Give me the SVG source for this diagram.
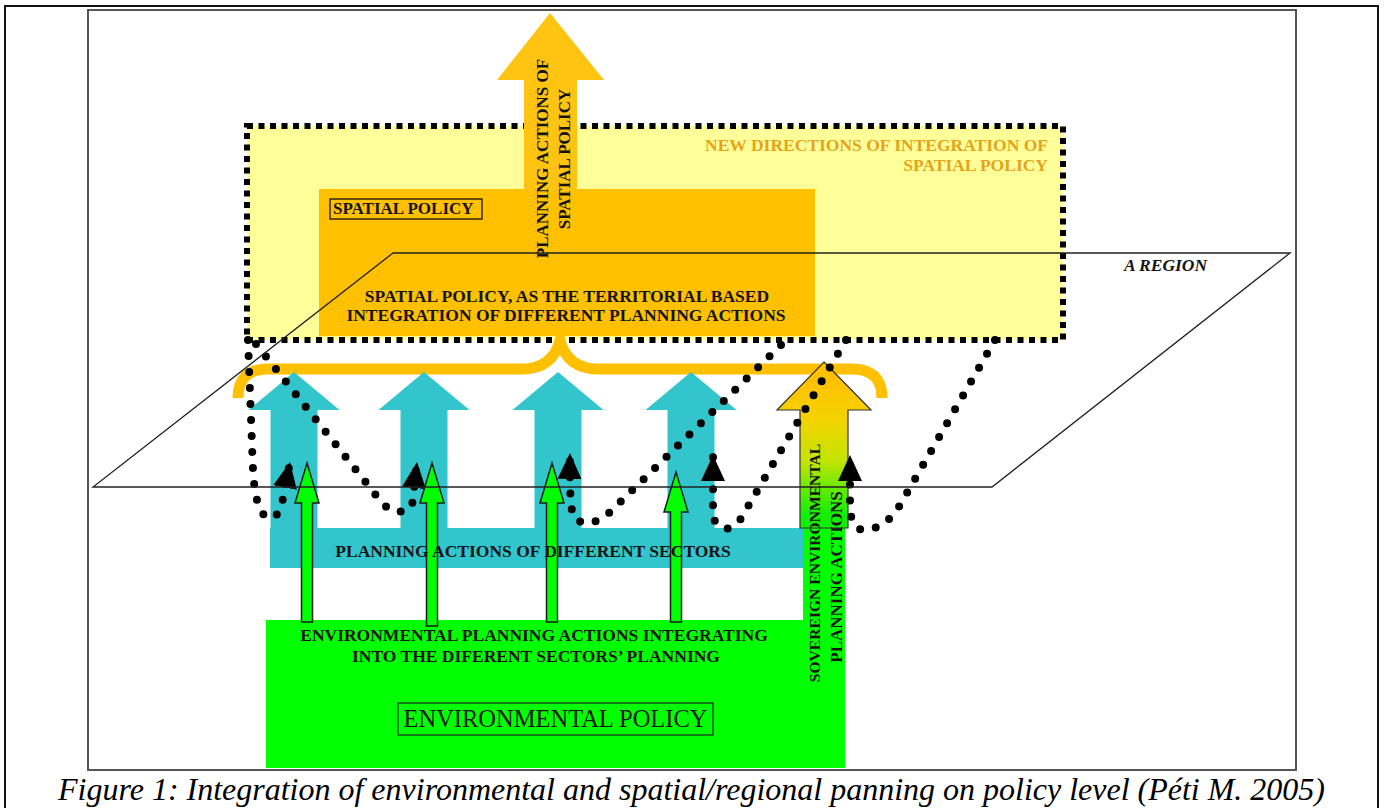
<svg xmlns="http://www.w3.org/2000/svg" width="1385" height="808" viewBox="0 0 1385 808">
<defs>
<style>
.t{font-family:"Liberation Serif","Times New Roman",serif;font-weight:bold;font-size:17.5px;fill:#141414}
.c{text-anchor:middle}
.dots{fill:none;stroke:#000;stroke-width:8;stroke-linecap:round;stroke-dasharray:0 16;marker-end:url(#tri)}
.garrow{fill:#00FF00;stroke:#1a1a1a;stroke-width:1.5}
.teal{fill:#33C5CC}
.gold{fill:#FFC000}
</style>
<marker id="tri" markerUnits="userSpaceOnUse" markerWidth="28" markerHeight="26" refX="26" refY="13" orient="auto" viewBox="0 0 28 26"><path d="M0,1 L26,13 L0,25 z" fill="#000"/></marker>
<linearGradient id="sov" gradientUnits="userSpaceOnUse" x1="0" y1="380" x2="0" y2="515"><stop offset="0" stop-color="#FFC000"/><stop offset="0.3" stop-color="#F2D400"/><stop offset="0.6" stop-color="#C4E400"/><stop offset="1" stop-color="#10F000"/></linearGradient>
</defs>
<rect width="1385" height="808" fill="#fff"/>
<g id="frame" fill="none">
<rect x="5" y="6" width="1373" height="830" stroke="#111" stroke-width="2"/>
<rect x="88" y="10" width="1208" height="760" stroke="#555" stroke-width="2"/>
</g>
<g id="new-directions">
<rect x="247" y="126" width="816" height="214" fill="#FFFF99" stroke="#000" stroke-width="6" stroke-dasharray="6 5.5"/>
<text class="t" x="1048" y="151" text-anchor="end" style="fill:#E5A41C">NEW DIRECTIONS OF INTEGRATION OF</text>
<text class="t" x="1048" y="171" text-anchor="end" style="fill:#E5A41C">SPATIAL POLICY</text>
</g>
<g id="spatial-policy">
<rect class="gold" x="319" y="189" width="496" height="147"/>
<rect x="330" y="199" width="152" height="20" fill="none" stroke="#000" stroke-width="1.2"/>
<text class="t" x="333" y="214" style="font-size:17px">SPATIAL POLICY</text>
</g>
<g id="spatial-actions-arrow">
<polygon fill="#FFC412" points="550,13 604,80 577,80 577,190 524,190 524,80 497,80"/>
<text class="t c" transform="translate(548,158.5) rotate(-90)" style="font-size:17px">PLANNING ACTIONS OF</text>
<text class="t c" transform="translate(570,159) rotate(-90)" style="font-size:17px">SPATIAL POLICY</text>
</g>
<g id="brace">
<path d="M238,398 Q238,369 268,369 L522,369 Q552,369 560,341 Q568,369 598,369 L852,369 Q882,369 882,398" fill="none" stroke="#FFC000" stroke-width="11"/>
</g>
<g id="sectors">
<rect class="teal" x="270" y="528" width="533" height="40"/>
<polygon class="teal" points="294,372 339.5,410 317.5,410 317.5,530 270.5,530 270.5,410 248.5,410"/>
<polygon class="teal" points="424,372 469.5,410 447.5,410 447.5,530 400.5,530 400.5,410 378.5,410"/>
<polygon class="teal" points="558,372 603.5,410 581.5,410 581.5,530 534.5,530 534.5,410 512.5,410"/>
<polygon class="teal" points="691,372 736.5,410 714.5,410 714.5,530 667.5,530 667.5,410 645.5,410"/>
</g>
<g id="environmental-policy">
<rect x="266" y="620" width="579" height="148" fill="#00FF00"/>
<rect x="803" y="526" width="42" height="242" fill="#00FF00"/>
</g>
<g id="sovereign-arrow">
<polygon fill="url(#sov)" stroke="#333" stroke-width="1.2" points="824,362 871,410 848,410 848,528 800,528 800,410 777,410"/>
</g>
<g id="connectors">
<path class="dots" d="M248,340 L253,470 Q256,520 272,518 Q280,515 283,498 L290,462"/>
<path class="dots" d="M256,344 L383,504 Q398,518 412,506 L417,462"/>
<path class="dots" d="M781,345 L610,512 Q590,530 574,518 Q569,508 570,453"/>
<path class="dots" d="M846,340 L740,520 Q724,538 713,518 L713,455"/>
<path class="dots" d="M995,340 L900,505 Q885,530 862,530 Q850,526 850,505 L850,455"/>
</g>
<g id="green-arrows">
<polygon class="garrow" points="307,463 319,503 312.5,503 312.5,622 301.5,622 301.5,503 295,503"/>
<polygon class="garrow" points="432,463 444,503 437.5,503 437.5,626 426.5,626 426.5,503 420,503"/>
<polygon class="garrow" points="552,463 564,503 557.5,503 557.5,622 546.5,622 546.5,503 540,503"/>
<polygon class="garrow" points="676,472 688,512 681.5,512 681.5,622 670.5,622 670.5,512 664,512"/>
</g>
<g id="region">
<polygon points="393,253 1290,253 992,487 93,487" fill="none" stroke="#222" stroke-width="1.3"/>
<text x="1124" y="271" style="font-family:'Liberation Serif','Times New Roman',serif;font-style:italic;font-weight:bold;font-size:17.5px" fill="#141414">A REGION</text>
</g>
<g id="labels">
<text class="t c" x="567" y="302">SPATIAL POLICY, AS THE TERRITORIAL BASED</text>
<text class="t c" x="566" y="321">INTEGRATION OF DIFFERENT PLANNING ACTIONS</text>
<text class="t c" x="533" y="557">PLANNING ACTIONS OF DIFFERENT SECTORS</text>
<text class="t c" x="534" y="641">ENVIRONMENTAL PLANNING ACTIONS INTEGRATING</text>
<text class="t c" x="536" y="662">INTO THE DIFERENT SECTORS’ PLANNING</text>
<rect x="398" y="703" width="315" height="32" fill="none" stroke="#222" stroke-width="1.2"/>
<text class="c" x="555.5" y="727" style="font-family:'Liberation Serif','Times New Roman',serif;font-size:24.5px" fill="#141414">ENVIRONMENTAL POLICY</text>
<text class="t c" transform="translate(820,563) rotate(-90)" style="font-size:15.6px">SOVEREIGN ENVIRONMENTAL</text>
<text class="t c" transform="translate(842,577) rotate(-90)" style="font-size:17px">PLANNING ACTIONS</text>
</g>
<g id="caption">
<text x="691.5" y="800" text-anchor="middle" textLength="1267" style="font-family:'Liberation Serif','Times New Roman',serif;font-style:italic;font-size:32px" fill="#000">Figure 1: Integration of environmental and spatial/regional panning on policy level (Péti M. 2005)</text>
</g>
</svg>
